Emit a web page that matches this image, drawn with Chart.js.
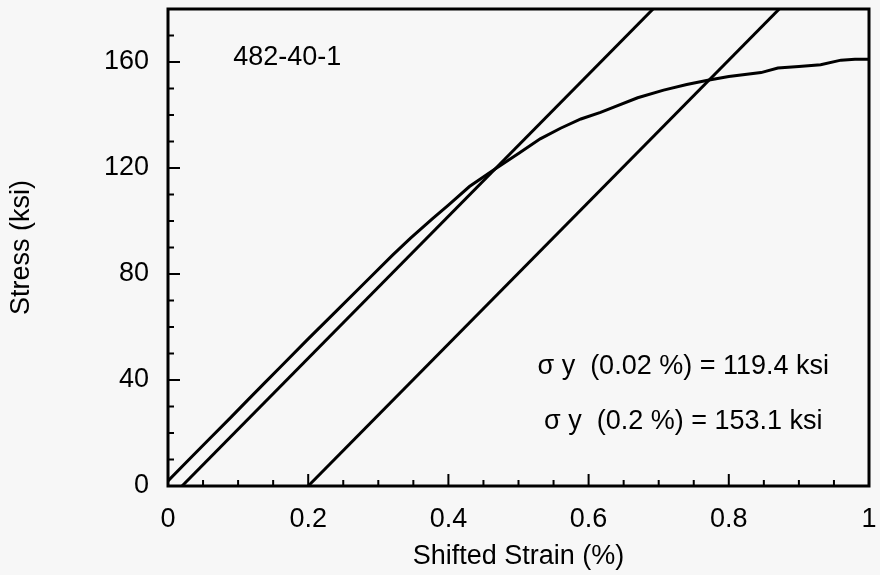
<!DOCTYPE html>
<html>
<head>
<meta charset="utf-8">
<script src="https://cdn.jsdelivr.net/npm/chart.js@4.4.1/dist/chart.umd.min.js"></script>
<style>
  html, body { margin: 0; padding: 0; background: #f7f7f7; }
  canvas { display: block; }
</style>
</head>
<body>
<canvas id="grafico" width="880" height="575"></canvas>
<script>
// curva tensao x deformacao
const strainX = [0, 0.03, 0.06, 0.09, 0.114, 0.14, 0.16, 0.20, 0.24, 0.28, 0.32, 0.346, 0.377, 0.40, 0.43, 0.4655,
  0.50, 0.531, 0.56, 0.589, 0.617, 0.636, 0.67, 0.707, 0.74, 0.77, 0.80, 0.846, 0.87, 0.90, 0.931, 0.96, 0.98, 1.0];
const stressY = [1.9, 10, 18, 26, 32.5, 39.5, 44.8, 55.5, 66, 76.5, 87, 93.5, 100.8, 106, 113, 119.4,
  125.5, 131, 135, 138.5, 141, 143, 146.5, 149.4, 151.5, 153.1, 154.5, 156, 157.7, 158.3, 159, 160.7, 161, 161];

// retas de offset 0.02 % e 0.2 %
const offset002X = [0.02, 0.692];
const offset02X = [0.2, 0.872];
const offsetY = [0, 180];

const xTicks = [0, 0.2, 0.4, 0.6, 0.8, 1];
const yTicks = [0, 40, 80, 120, 160];

const FONT = "'Liberation Sans', Arial, sans-serif";

function pontos(xs, ys){
    return xs.map((x, i) => ({x: x, y: ys[i]}));
}

// moldura + ticks para dentro + textos
const moldura = {
    id: "moldura",
    afterDraw(chart){
        const ctx = chart.ctx;
        const a = chart.chartArea;
        const sx = chart.scales.x;
        const sy = chart.scales.y;
        ctx.save();
        ctx.strokeStyle = "#000";
        ctx.lineWidth = 2;
        ctx.beginPath();
        for (let v = 0; v <= 1.0001; v += 0.05){
            const px = sx.getPixelForValue(v);
            const major = xTicks.some(t => Math.abs(t - v) < 1e-6);
            ctx.moveTo(px, a.bottom);
            ctx.lineTo(px, a.bottom - (major ? 12 : 6));
        }
        for (let v = 0; v <= 180; v += 10){
            const py = sy.getPixelForValue(v);
            const major = yTicks.includes(v);
            ctx.moveTo(a.left, py);
            ctx.lineTo(a.left + (major ? 12 : 6), py);
        }
        ctx.stroke();
        ctx.lineWidth = 3;
        ctx.strokeRect(a.left, a.top, a.right - a.left, a.bottom - a.top);

        ctx.fillStyle = "#000";
        ctx.font = "27px " + FONT;
        ctx.textBaseline = "middle";
        ctx.textAlign = "left";
        ctx.fillText("482-40-1", sx.getPixelForValue(0.093), sy.getPixelForValue(161.5));
        ctx.textAlign = "center";
        ctx.fillText("\u03C3 y  (0.02 %) = 119.4 ksi", sx.getPixelForValue(0.735), sy.getPixelForValue(44.9));
        ctx.fillText("\u03C3 y  (0.2 %) = 153.1 ksi", sx.getPixelForValue(0.735), sy.getPixelForValue(24.2));
        ctx.restore();
    }
};

const linha = {
    showLine: true,
    borderColor: "#000",
    borderWidth: 3,
    pointRadius: 0,
    fill: false
};

new Chart(
    document.getElementById("grafico"),
    {
    type: "scatter",
    data: {
        datasets: [
            Object.assign({label: "Curva", data: pontos(strainX, stressY)}, linha),
            Object.assign({label: "Offset 0.02 %", data: pontos(offset002X, offsetY)}, linha),
            Object.assign({label: "Offset 0.2 %", data: pontos(offset02X, offsetY)}, linha)
        ]
    },
    options: {
        responsive: false,
        animation: false,
        layout: { padding: {top: 9, right: 11, left: 0, bottom: 0} },
        plugins: { legend: {display: false}, tooltip: {enabled: false} },
        scales: {
            x: {
                type: "linear",
                min: 0, max: 1,
                grid: {display: false},
                border: {display: false},
                afterBuildTicks: s => { s.ticks = xTicks.map(v => ({value: v})); },
                afterFit: s => { s.height = 89; s.paddingLeft = 0; s.paddingRight = 0; },
                ticks: {
                    color: "#000",
                    padding: 9,
                    maxRotation: 0,
                    font: {family: FONT, size: 27},
                    callback: v => String(v)
                },
                title: {
                    display: true,
                    text: "Shifted Strain (%)",
                    color: "#000",
                    font: {family: FONT, size: 27},
                    padding: {top: 0, bottom: 2}
                }
            },
            y: {
                type: "linear",
                min: 0, max: 180,
                grid: {display: false},
                border: {display: false},
                afterBuildTicks: s => { s.ticks = yTicks.map(v => ({value: v})); },
                afterFit: s => { s.width = 168; s.paddingTop = 0; s.paddingBottom = 0; },
                ticks: {
                    color: "#000",
                    padding: 11,
                    font: {family: FONT, size: 27}
                },
                title: {
                    display: true,
                    text: "Stress (ksi)",
                    color: "#000",
                    font: {family: FONT, size: 27},
                    padding: {top: 5, bottom: 0}
                }
            }
        }
    },
    plugins: [moldura]
    }
);
</script>
</body>
</html>
